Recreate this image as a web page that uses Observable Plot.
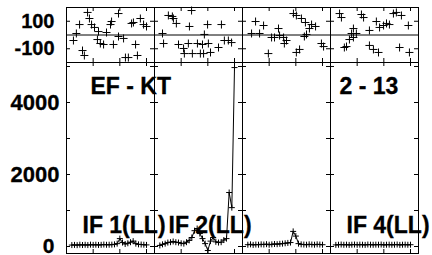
<!DOCTYPE html>
<html><head><meta charset="utf-8">
<script src="https://cdn.jsdelivr.net/npm/d3@7"></script>
<script src="https://cdn.jsdelivr.net/npm/@observablehq/plot@0.6"></script>
<style>
html,body{margin:0;padding:0;background:#fff;overflow:hidden;}
#chart{position:relative;width:432px;height:255px;overflow:hidden;background:#fff;}
#chart svg{display:block;}
#chart svg text{font-family:"Liberation Sans",Arial,Helvetica,sans-serif;font-weight:bold;stroke:black;stroke-width:0.3px;}
</style></head><body><div id="chart"></div>
<script>
// ---- data ----
const panels = ["IF 1", "IF 2", "IF 3", "IF 4"];
const channelX = [2,3,4,5,6,7,8,9,10,11,12,13,14,15,16,17,18,19,20,21,22,23,24,25,26,27,28,29,30];
const if1 = [40,45,38,50,42, 48,40,52,45,50, 43,47,55,48,50, 52,60,80,220,110, 70,90,120,150,80, 60,55,50,45];
const if2 = [30,60,80,110,120, 140,120,110,90,80, 120,170,250,440,500, 360,220,80,-110,150, 250,130,110,120,180, 220,1500,1080,4970];
const if3 = [50,60,45,55,50, 60,55,65,50,60, 70,65,75,80,90, 100,110,420,290,80, 60,55,50,60,55, 50,60,55,50];
const if4 = [45,50,55,48,52, 45,50,55,48,52, 50,45,55,50,48, 52,50,55,45,50, 52,48,50,55,45, 50,52,48,50];

const res1X = [2.6,3.7,4.9,6.0,6.7,7.9,8.6,9.4,10.5,11.6,12.0,12.7,13.9,15.0,16.5,16.9,17.6,19.5,19.5,21.4,22.1,23.2,24.4,25.1,25.9,26.6,27.7,28.9,30.0];
const res1Y = [-40,11,76,-113,-149,164,120,76,55,-33,25,-62,-69,18,76,98,-69,156,-11,-25,-164,-164,84,91,-69,-149,120,76,62];
const res2X = [3.0,3.4,5.2,6.7,7.1,8.2,9.0,10.9,11.2,12.7,13.1,13.9,14.2,16.1,17.2,18.0,18.4,18.7,19.9,20.2,21.0,24.0,25.1,26.2,27.7,28.9];
const res2Y = [11,-62,142,135,120,84,-69,-98,-135,-62,62,178,-135,-62,-135,-69,-135,4,76,-62,-127,-91,76,-40,-40,-55];
const res3X = [3.4,4.9,6.4,7.9,9.7,10.9,12.0,13.5,13.9,15.4,15.7,16.5,19.1,20.2,20.2,21.4,22.1,23.2,23.6,24.0,25.1,25.9,27.4,29.6,30.4];
const res3Y = [11,98,11,69,-135,-18,-18,47,-4,-18,-62,-40,156,142,-127,-105,120,-11,91,4,47,76,62,-62,-84];
const res4X = [3.4,4.1,5.2,6.0,7.1,7.9,8.6,8.6,9.7,11.6,12.4,14.6,14.6,16.1,17.2,18.0,18.4,19.9,21.0,22.1,23.6,24.7,25.9,26.6,29.2,29.6];
const res4Y = [156,127,-91,-84,-33,11,47,-18,11,149,127,33,-76,-105,98,-127,55,69,84,76,156,164,-91,142,69,-127];

const xTicks = [10, 20, 30];
const mainTicks = [0, 1000, 2000, 3000, 4000, 5000];
const mainTickLabels = [2000, 4000];
const zeroLabel = [0];
const resTicks = [-100, 100];
const resTickLabels = [100, -100];
const ifLabelsA = [{panel: "IF 1", label: "IF 1(LL)"}, {panel: "IF 4", label: "IF 4(LL)"}];
const ifLabelsB = [{panel: "IF 2", label: "IF 2(LL)"}];
const cornerA = [{panel: "IF 1", label: "EF - KT"}];
const cornerB = [{panel: "IF 4", label: "2 - 13"}];

// ---- build tables ----
const series = [if1, if2, if3, if4];
const rows = [];
panels.forEach((p, i) => channelX.forEach((x, j) => rows.push({panel: p, x, y: series[i][j]})));
const resXs = [res1X, res2X, res3X, res4X], resYs = [res1Y, res2Y, res3Y, res4Y];
const resRows = [];
panels.forEach((p, i) => resXs[i].forEach((x, j) => resRows.push({panel: p, x, y: resYs[i][j]})));

const plusSym = {draw(ctx, size) {
  const s = Math.sqrt(size / Math.PI);
  ctx.moveTo(-s, 0); ctx.lineTo(s, 0); ctx.moveTo(0, -s); ctx.lineTo(0, s);
}};

const font = '"Liberation Sans", Arial, Helvetica, sans-serif';
const baseStyle = {fontFamily: font, fontWeight: "bold", background: "transparent", overflow: "visible", color: "black"};

const topPlot = Plot.plot({
  width: 432, height: 62, marginTop: 7, marginBottom: 0, marginLeft: 66, marginRight: 14,
  style: baseStyle,
  fx: {domain: panels, padding: 0, axis: null},
  x: {domain: [0, 33], axis: null},
  y: {domain: [-200, 200], axis: null},
  marks: [
    Plot.frame({stroke: "black"}),
    Plot.ruleY([0], {stroke: "black"}),
    Plot.tickY(resTicks, {insetRight: 84, stroke: "black"}),
    Plot.tickY(resTicks, {insetLeft: 84, stroke: "black"}),
    Plot.tickX(xTicks, {insetTop: 51, stroke: "black"}),
    Plot.tickX(xTicks, {insetBottom: 51, stroke: "black"}),
    Plot.dot(resRows, {fx: "panel", x: "x", y: "y", symbol: plusSym, r: 4, fill: "none", stroke: "black", strokeWidth: 1}),
    Plot.axisY(resTickLabels, {anchor: "left", label: null, tickFormat: d => String(d), tickSize: 0, tickPadding: 12, fontSize: 20, fontWeight: "bold", fill: "black"})
  ]
});

const mainPlot = Plot.plot({
  width: 432, height: 197, marginTop: 0, marginBottom: 6, marginLeft: 66, marginRight: 14,
  style: baseStyle,
  fx: {domain: panels, padding: 0, axis: null},
  x: {domain: [0, 33], axis: null},
  y: {domain: [-194, 5111], axis: null},
  marks: [
    Plot.frame({stroke: "black"}),
    Plot.tickY(mainTicks, {insetRight: 84, stroke: "black"}),
    Plot.tickY(mainTicks, {insetLeft: 84, stroke: "black"}),
    Plot.tickX(xTicks, {insetTop: 187, stroke: "black"}),
    Plot.tickX(xTicks, {insetBottom: 187, stroke: "black"}),
    Plot.line(rows, {fx: "panel", x: "x", y: "y", stroke: "black", strokeWidth: 1}),
    Plot.dot(rows, {fx: "panel", x: "x", y: "y", symbol: plusSym, r: 3, fill: "none", stroke: "black", strokeWidth: 1}),
    Plot.axisY(mainTickLabels, {anchor: "left", label: null, tickFormat: d => String(d), tickSize: 0, tickPadding: 7, fontSize: 22, fontWeight: "bold", fill: "black"}),
    Plot.axisY(zeroLabel, {anchor: "left", label: null, tickFormat: d => String(d), tickSize: 0, tickPadding: 12, fontSize: 21, fontWeight: "bold", fill: "black"}),
    Plot.text(ifLabelsA, {fx: "panel", text: "label", frameAnchor: "bottom-left", textAnchor: "start", lineAnchor: "bottom", dx: 16, dy: -21, fontSize: 23, fontWeight: "bold", fill: "black"}),
    Plot.text(ifLabelsB, {fx: "panel", text: "label", frameAnchor: "bottom-left", textAnchor: "start", lineAnchor: "bottom", dx: 14, dy: -21, fontSize: 23, fontWeight: "bold", fill: "black"}),
    Plot.text(cornerA, {fx: "panel", text: "label", frameAnchor: "top-left", textAnchor: "start", lineAnchor: "bottom", dx: 24, dy: 31, fontSize: 23, fontWeight: "bold", fill: "black"}),
    Plot.text(cornerB, {fx: "panel", text: "label", frameAnchor: "top-left", textAnchor: "start", lineAnchor: "bottom", dx: 9, dy: 31, fontSize: 23, fontWeight: "bold", fill: "black"})
  ]
});

const chart = document.getElementById("chart");
chart.appendChild(topPlot);
chart.appendChild(mainPlot);
</script></body></html>
